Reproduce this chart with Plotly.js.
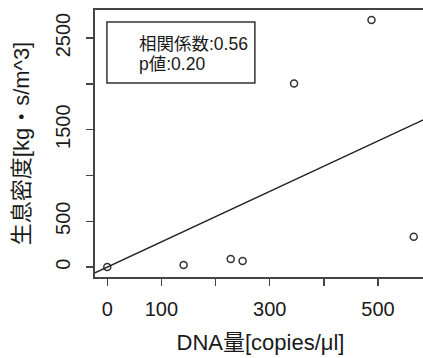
<!DOCTYPE html>
<html><head><meta charset="utf-8">
<script src="https://cdn.plot.ly/plotly-3.0.1.min.js"></script>
<style>html,body{margin:0;padding:0;overflow:hidden;background:#fff;width:423px;height:358px}</style>
</head><body><div id="chart" style="width:430px;height:358px"></div>
<script>
const dnaAmount = [0, 141, 228, 250, 345, 488, 566];
const habitatDensity = [0, 22, 88, 66, 2005, 2699, 332];
const xTickVals = [0, 100, 200, 300, 400, 500];
const xTickText = ['0', '100', '', '300', '', '500'];
const yTickVals = [0, 500, 1000, 1500, 2000, 2500];
const yTickText = ['0', '500', '', '1500', '', '2500'];
const statsLines = ['相関係数:0.56', 'p値:0.20'];

// regression line through origin (y ~ x - 1)
let sxy = 0, sxx = 0;
for (let i = 0; i < dnaAmount.length; i++) { sxy += dnaAmount[i] * habitatDensity[i]; sxx += dnaAmount[i] * dnaAmount[i]; }
const slope = sxy / sxx;
const xMin = Math.min(...dnaAmount), xMax = Math.max(...dnaAmount);
const yMin = Math.min(...habitatDensity), yMax = Math.max(...habitatDensity);
const xr = [xMin - 0.04 * (xMax - xMin), xMax + 0.04 * (xMax - xMin)];
const yr = [yMin - 0.04 * (yMax - yMin), yMax + 0.04 * (yMax - yMin)];

const font = 'Liberation Sans, Arial, Noto Sans CJK JP, sans-serif';
const axisCol = '#444';
const txt = '#1a1a1a';

const traces = [
  {x: dnaAmount, y: habitatDensity, mode: 'markers', type: 'scatter',
   marker: {symbol: 'circle-open', size: 7, color: '#333', line: {width: 1.5, color: '#333'}},
   cliponaxis: true, hoverinfo: 'skip'},
  {x: [xr[0], xr[1]], y: [slope * xr[0], slope * xr[1]], mode: 'lines', type: 'scatter',
   line: {color: '#222', width: 1.4}, hoverinfo: 'skip'}
];

const layout = {
  width: 430, height: 358,
  margin: {l: 95, r: 4, t: 10, b: 81},
  paper_bgcolor: '#fff', plot_bgcolor: '#fff',
  showlegend: false,
  font: {family: font, color: txt, size: 20},
  xaxis: {
    range: xr, showgrid: false, zeroline: false,
    showline: true, mirror: true, linecolor: axisCol, linewidth: 2,
    ticks: 'outside', ticklen: 7, tickwidth: 1.5, tickcolor: axisCol,
    tickvals: xTickVals, ticktext: xTickText, ticklabelstandoff: 6,
    tickfont: {size: 20, family: font, color: txt},
    title: {text: 'DNA量[copies/μl]', font: {size: 22, family: font, color: txt}, standoff: 16}
  },
  yaxis: {
    range: yr, showgrid: false, zeroline: false,
    showline: true, mirror: true, linecolor: axisCol, linewidth: 2,
    ticks: 'outside', ticklen: 7, tickwidth: 1.5, tickcolor: axisCol,
    tickvals: yTickVals, ticktext: yTickText, tickangle: -90, ticklabelstandoff: 8,
    tickfont: {size: 20, family: font, color: txt},
    title: {text: '生息密度[kg・s/m^3]', font: {size: 22, family: font, color: txt}, standoff: 16}
  },
  shapes: [{type: 'rect', xref: 'paper', yref: 'paper', x0: 0.036, x1: 0.483, y0: 0.727, y1: 0.955,
            line: {color: '#333', width: 1.5}, fillcolor: 'rgba(0,0,0,0)'}],
  annotations: [
    {xref: 'paper', yref: 'paper', x: 0.128, y: 0.872, xanchor: 'left', yanchor: 'middle', showarrow: false,
     text: statsLines[0], font: {size: 17.5, family: font, color: txt}},
    {xref: 'paper', yref: 'paper', x: 0.128, y: 0.797, xanchor: 'left', yanchor: 'middle', showarrow: false,
     text: statsLines[1], font: {size: 17.5, family: font, color: txt}}
  ]
};
Plotly.newPlot('chart', traces, layout, {staticPlot: true, displayModeBar: false});
</script></body></html>
